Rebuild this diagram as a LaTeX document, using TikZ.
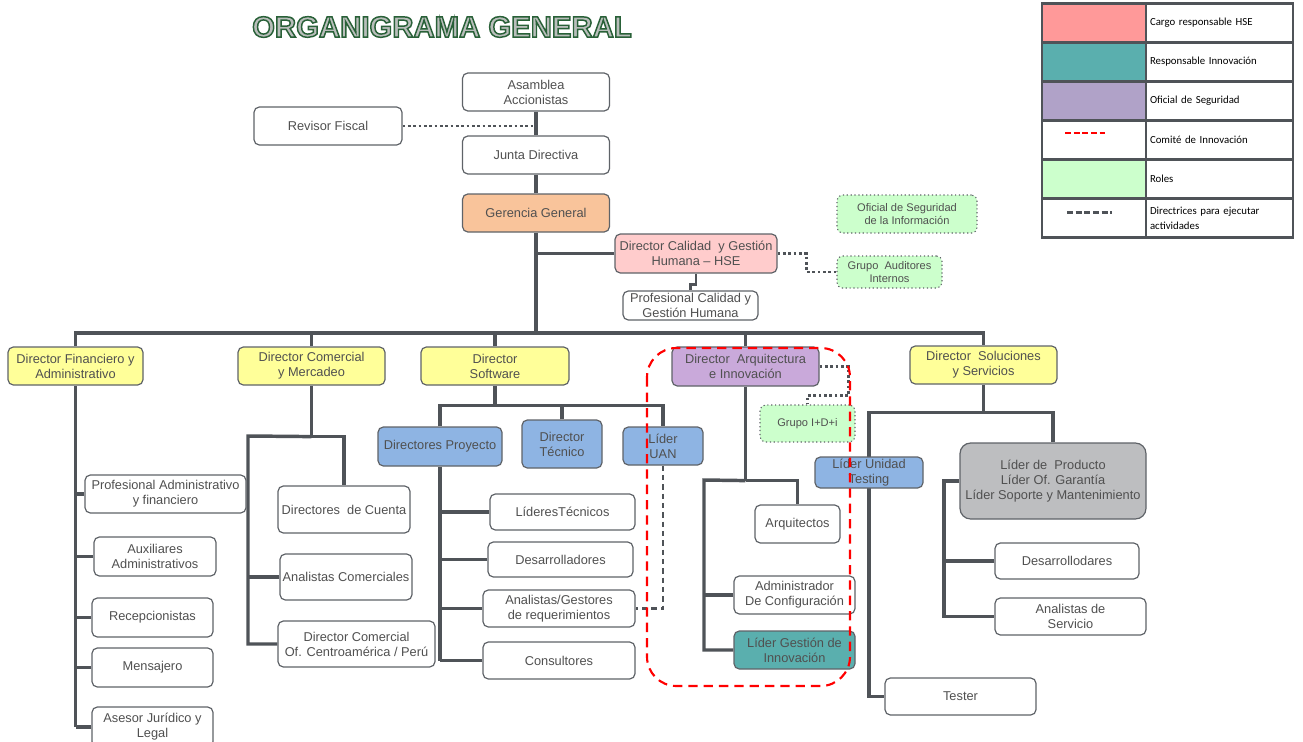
\documentclass[tikz,border=0pt]{standalone}
\usepackage{fontspec}
\setmainfont{Liberation Sans}
\newfontfamily\legfont{Carlito}
\newfontfamily\ttlfont[FakeBold=5]{Liberation Sans Bold}
\usetikzlibrary{positioning,backgrounds,calc}
\definecolor{cLine}{HTML}{4F5358}
\definecolor{cBorder}{HTML}{5F6368}
\definecolor{cText}{HTML}{505050}
\definecolor{cYellow}{HTML}{FFFF99}
\definecolor{cBlue}{HTML}{8EB4E3}
\definecolor{cOrange}{HTML}{F9C49B}
\definecolor{cPink}{HTML}{FFCCCC}
\definecolor{cLav}{HTML}{C9A9DA}
\definecolor{cLavL}{HTML}{B0A2C8}
\definecolor{cTeal}{HTML}{5AAFAE}
\definecolor{cRole}{HTML}{CCFFCC}
\definecolor{cGray}{HTML}{BDBEC0}
\definecolor{cHse}{HTML}{FF9999}
\definecolor{cTitleIn}{HTML}{B9BEBB}
\newdimen\pxu \pxu=0.75pt
% contorno verde del titulo (color de trazo)
\newcommand\ttlstroke{\special{pdf:literal direct 0.16 0.38 0.22 RG}}
\tikzset{
  box/.style    = {rectangle, rounded corners=4pt, draw=cBorder, fill=#1, line width=0.9pt,
                   text=cText, align=center, inner sep=1pt,
                   font=\fontsize{9.6}{11.3}\selectfont},
  box/.default  = white,
  dirbox/.style = {box=cYellow},
  subbox/.style = {box=cBlue},
  role/.style   = {box=cRole, dotted, line width=0.8pt, font=\fontsize{8.3}{10}\selectfont},
  ln/.style     = {draw=cLine, line width=2.6pt},
  trunk/.style  = {draw=cLine, line width=3pt},
  dotln/.style  = {draw=cLine, line width=2.1pt, dash pattern=on 2pt off 2pt},
  dashln/.style = {draw=cLine, line width=1.8pt, dash pattern=on 4pt off 3pt},
  comite/.style = {draw=red, line width=1.6pt, dash pattern=on 7pt off 4.5pt},
  ttl/.style    = {font=\ttlfont\fontsize{22}{24}\selectfont, inner sep=0pt, text=cTitleIn},
  legsw/.style  = {rectangle, draw=cLine, line width=2.2pt, minimum width=104\pxu,
                   minimum height=39\pxu},
  legtx/.style  = {rectangle, draw=cLine, line width=2.2pt, minimum width=147\pxu,
                   minimum height=39\pxu, text width=139\pxu, align=left, inner sep=3\pxu,
                   font=\legfont\fontsize{8.1}{11}\selectfont},
}

\begin{document}
\begin{tikzpicture}[x=0.75pt, y=-0.75pt]
  \useasboundingbox (0,0) rectangle (1303,742);

  % titulo
  \node[ttl] (title) at (442,27) {\ttlstroke ORGANIGRAMA GENERAL};

  % leyenda
  \foreach \c/\t [count=\i] in {cHse/Cargo responsable HSE, cTeal/Responsable Innovación,
      cLavL/Oficial de Seguridad, white/Comité de Innovación, cRole/Roles,
      white/{Directrices para ejecutar\\actividades}} {
    \node[legsw, fill=\c] (ls\i) at (1094,{23+39*(\i-1)}) {};
    \node[legtx] (lt\i) at (1219.5,{23+39*(\i-1)}) {\t};
  }
  \draw[draw=red, line width=1.6pt, dash pattern=on 4.5pt off 2pt]
    ($(ls4.center)+(-29,-7)$) -- ($(ls4.center)+(11,-7)$);
  \draw[draw=cLine, line width=1.6pt, dash pattern=on 4.5pt off 2pt]
    ($(ls6.center)+(-27,-5.5)$) -- ($(ls6.center)+(18,-5.5)$);

  % nivel superior
  \node[box, minimum width=147\pxu, minimum height=38\pxu] (asam) at (536,92) {Asamblea\\Accionistas};
  \node[box, minimum width=148\pxu, minimum height=38\pxu] (rev) at (328,126) {Revisor Fiscal};
  \node[box, minimum width=147\pxu, minimum height=38\pxu] (junta) at (536,155) {Junta Directiva};
  \node[box=cOrange, minimum width=147\pxu, minimum height=38\pxu] (gg) at (536,213) {Gerencia General};
  \node[box=cPink, minimum width=162\pxu, minimum height=39\pxu] (dcal) at (696,253.5) {Director Calidad \ y Gestión\\Humana -- HSE};
  \node[box, minimum width=135\pxu, minimum height=29\pxu] (pcal) at (690.5,305.5) {Profesional Calidad y\\Gestión Humana};
  \node[role, minimum width=140\pxu, minimum height=38\pxu] (ofis) at (907,214) {Oficial de Seguridad\\de la Información};
  \node[role, minimum width=105\pxu, minimum height=32\pxu] (gaud) at (889.5,272) {Grupo \ Auditores\\Internos};

  % directores
  \node[dirbox, minimum width=135\pxu, minimum height=38\pxu] (dfin) at (75.5,366) {Director Financiero y\\Administrativo};
  \node[dirbox, minimum width=147\pxu, minimum height=38\pxu] (dcom) at (311.5,366) {Director Comercial\\y Mercadeo};
  \node[dirbox, minimum width=148\pxu, minimum height=38\pxu] (dsw) at (495,366) {Director\\Software};
  \node[box=cLav, minimum width=147\pxu, minimum height=39\pxu] (darq) at (745.5,366.5) {Director \ Arquitectura\\e Innovación};
  \node[dirbox, minimum width=147\pxu, minimum height=38\pxu] (dsol) at (983.5,365) {Director \ Soluciones\\y Servicios};

  % financiero
  \node[box, minimum width=161\pxu, minimum height=38\pxu] (padm) at (165.5,494) {Profesional Administrativo\\y financiero};
  \node[box, minimum width=122\pxu, minimum height=39\pxu] (aux) at (155,556.5) {Auxiliares\\Administrativos};
  \node[box, minimum width=121\pxu, minimum height=39\pxu] (recep) at (152.5,617.5) {Recepcionistas};
  \node[box, minimum width=121\pxu, minimum height=39\pxu] (mens) at (152.5,667.5) {Mensajero};
  \node[box, minimum width=121\pxu, minimum height=40\pxu] (ajur) at (152.5,727) {Asesor Jurídico y\\Legal};

  % comercial
  \node[box, minimum width=132\pxu, minimum height=47\pxu] (cdc) at (344,509.5) {Directores \ de Cuenta};
  \node[box, minimum width=132\pxu, minimum height=46\pxu] (acom) at (346,577) {Analistas Comerciales};
  \node[box, minimum width=157\pxu, minimum height=46\pxu] (dcen) at (356.5,644) {Director Comercial\\Of. Centroamérica / Perú};

  % software
  \node[subbox, minimum width=124\pxu, minimum height=39\pxu] (dpro) at (440,446.5) {Directores Proyecto};
  \node[subbox, minimum width=80\pxu, minimum height=48\pxu] (dtec) at (562,444) {Director\\Técnico};
  \node[subbox, minimum width=80\pxu, minimum height=38\pxu] (uan) at (663,446) {Líder\\UAN};
  \node[box, minimum width=145\pxu, minimum height=36\pxu] (ltec) at (562.5,512) {LíderesTécnicos};
  \node[box, minimum width=145\pxu, minimum height=35\pxu] (des) at (560.5,559.5) {Desarrolladores};
  \node[box, minimum width=152\pxu, minimum height=37\pxu] (anal) at (559,608.5) {Analistas/Gestores\\de requerimientos};
  \node[box, minimum width=152\pxu, minimum height=37\pxu] (cons) at (559,660.5) {Consultores};

  % arquitectura
  \node[role, minimum width=95\pxu, minimum height=37\pxu] (gid) at (807.5,423.5) {Grupo I+D+i};
  \node[box, minimum width=85\pxu, minimum height=38\pxu] (arq) at (797.5,524) {Arquitectos};
  \node[box, minimum width=121\pxu, minimum height=38\pxu] (adm) at (794.5,595) {Administrador\\De Configuración};
  \node[box=cTeal, minimum width=121\pxu, minimum height=38\pxu] (lgi) at (794.5,650) {Líder Gestión de\\Innovación};

  % soluciones
  \node[subbox, minimum width=108\pxu, minimum height=31\pxu] (lut) at (869,472.5) {Líder Unidad\\Testing};
  \node[box=cGray, rounded corners=8pt, minimum width=186\pxu, minimum height=76\pxu] (lprod) at (1053,481) {Líder de \ Producto\\Líder Of. Garantía\\Líder Soporte y Mantenimiento};
  \node[box, minimum width=144\pxu, minimum height=36\pxu] (dsar) at (1067,561) {Desarrollodares};
  \node[box, minimum width=151\pxu, minimum height=37\pxu] (asrv) at (1070.5,616.5) {Analistas de\\Servicio};
  \node[box, minimum width=151\pxu, minimum height=37\pxu] (tst) at (960.5,696.5) {Tester};

  \begin{scope}[on background layer]
    \draw[trunk] (asam) -- (junta);
    \draw[trunk] (junta) -- (gg);
    \draw[dotln] (rev.east) -- (rev.east -| junta.north);
    \coordinate (bus) at (536,333);
    \draw[trunk] (gg.south) -- (bus);
    \draw[ln] (dcal.west) -- (dcal.west -| gg.south);
    \draw[draw=cLine, line width=2pt] (dcal.south) -- ++(0,11) -| (pcal.north);
    \draw[dotln] (dcal.east) -- ++(29,0) |- (gaud.west);
    \draw[ln] (dfin.north) -- (dfin.north |- bus) -- (dsol.north |- bus) -- (dsol.north);
    \foreach \n in {dcom,dsw,darq}
      \draw[ln] (\n.north) -- (\n.north |- bus);

    % financiero
    \draw[ln] (dfin.south) -- (dfin.south |- ajur.west);
    \foreach \n in {padm,aux,recep,mens,ajur}
      \draw[ln] (\n.west) -- (\n.west -| dfin.south);

    % comercial
    \draw[ln] (dcom.south) -- ++(0,51) coordinate (cs) -| (cdc.north);
    \coordinate (cl) at (248,436);
    \draw[ln] (cs) -- (cl) -- (cl |- dcen.west) -- (dcen.west);
    \draw[ln] (acom.west) -- (acom.west -| cl);

    % software
    \draw[ln] (dsw.south) -- ++(0,20) coordinate (ss);
    \draw[ln] (dpro.north) |- (ss) -| (uan.north);
    \draw[ln] (dtec.north) -- (dtec.north |- ss);
    \draw[ln] (dpro.south) -- (dpro.south |- cons.west);
    \foreach \n in {ltec,des,anal,cons}
      \draw[ln] (\n.west) -- (\n.west -| dpro.south);
    \draw[dashln] (uan.south) |- (anal.east);

    % arquitectura
    \draw[ln] (darq.south) -- ++(0,94) coordinate (as);
    \draw[ln] (as) -| (arq.north);
    \coordinate (al) at (704,480);
    \draw[ln] (as) -- (al) -- (al |- lgi.west) -- (lgi.west);
    \draw[ln] (adm.west) -- (adm.west -| al);
    \draw[dotln] (darq.east) -- ++(29,0) -- ++(0,29) -| (gid.north);

    % soluciones
    \draw[ln] (dsol.south) -- ++(0,28) coordinate (sols);
    \draw[ln] (sols) -| (lprod.north);
    \draw[ln] (sols) -| (tst.west -| lut.north) -- (tst.west);
    \coordinate (gl) at (944,481);
    \draw[ln] (lprod.west) -- (gl) -- (gl |- asrv.west) -- (asrv.west);
    \draw[ln] (dsar.west) -- (dsar.west -| gl);
  \end{scope}

  % comite de innovacion
  \draw[comite, rounded corners=22pt] (647,348) rectangle (850,686);
\end{tikzpicture}
\end{document}
